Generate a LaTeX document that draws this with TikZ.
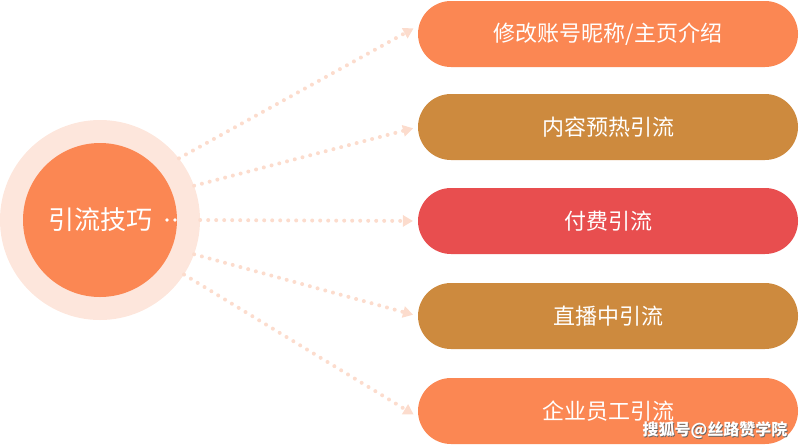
\documentclass[tikz,border=0pt]{standalone}
\usepackage{fontspec}
\usetikzlibrary{arrows.meta,positioning}
\newfontfamily\cjk{Noto Sans CJK SC}
\definecolor{orangeA}{HTML}{FB8753}
\definecolor{brownA}{HTML}{CD8A3E}
\definecolor{redA}{HTML}{E84E4F}
\definecolor{paleA}{HTML}{FDE6DC}
\definecolor{dotA}{HTML}{FCDCCD}
\tikzset{
	tipbox/.style={rounded corners=33pt,minimum width=380pt,minimum height=66pt,
		text=white,font=\cjk\fontsize{22pt}{24pt}\selectfont,inner sep=0pt},
	flow/.style={dotA,line width=4pt,line cap=round,dash pattern=on 0pt off 8pt,
		shorten >=5pt,-{Triangle[length=10pt,width=12pt,fill=dotA,line width=0pt]}}
}
\begin{document}
\begin{tikzpicture}[x=1pt,y=-1pt]
		\useasboundingbox (0,0) rectangle (799,445);
		\node[circle,fill=paleA,minimum size=200pt,inner sep=0pt] (hub) at (100,220) {};
		\node[circle,fill=orangeA,minimum size=154pt,inner sep=0pt,text=white,
			font=\cjk\fontsize{26pt}{28pt}\selectfont] (core) at (100,220) {引流技巧};
		\fill[white] (167,220) circle (1.8pt) (175,220) circle (1.8pt);
		% boxes on the right
		\node[tipbox,fill=orangeA] (b1) at (608,34) {修改账号昵称/主页介绍};
		\node[tipbox,fill=brownA] (b2) at (608,127) {内容预热引流};
		\node[tipbox,fill=redA] (b3) at (608,221) {付费引流};
		\node[tipbox,fill=brownA] (b4) at (608,316) {直播中引流};
		\node[tipbox,fill=orangeA] (b5) at (608,411) {企业员工引流};
		\draw[flow] (hub.38) -- ([yshift=8pt]b1.west);
		\draw[flow] (hub.20) -- (b2.west);
		\draw[flow] (hub.0) -- (b3.west);
		\draw[flow] (hub.-20) -- (b4.west);
		\draw[flow] (hub.-33) -- ([yshift=-6pt]b5.west);
		% watermark
		\node[text=black!60,font=\cjk\bfseries\fontsize{16pt}{18pt}\selectfont] at (715.8,430.8) {搜狐号@丝路赞学院};
		\node[text=white,font=\cjk\bfseries\fontsize{16pt}{18pt}\selectfont] (mark) at (715,430) {搜狐号@丝路赞学院};
\end{tikzpicture}
\end{document}
